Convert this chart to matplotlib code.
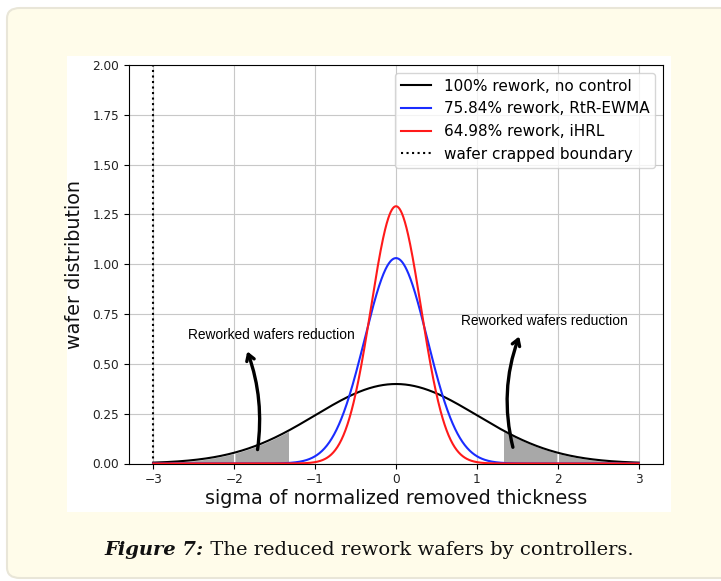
import numpy as np
import matplotlib
matplotlib.use("Agg")
import matplotlib.pyplot as plt
from matplotlib.patches import FancyBboxPatch, Rectangle

labels = ["100% rework, no control", "75.84% rework, RtR-EWMA", "64.98% rework, iHRL"]
sigmas = [1.0, 0.387, 0.309]
colors = ["black", "#1a2cff", "#ff1a1a"]
boundary_x = -3.0
boundary_label = "wafer crapped boundary"
shade_cut = 1.32          # |x| beyond which wafers are reworked
shade_split = 2.0
note = "Reworked wafers reduction"
note_pos = [(-1.54, 0.646), (1.84, 0.714)]
arrow_tail = [(-1.716, 0.056), (1.453, 0.068)]
arrow_head = [(-1.85, 0.576), (1.535, 0.651)]
arrow_rad = [0.13, -0.16]

x = np.linspace(-3, 3, 1201)


def gauss(x, s):
    return np.exp(-x ** 2 / (2 * s ** 2)) / (s * np.sqrt(2 * np.pi))


W, H = 721, 581
fig = plt.figure(figsize=(W / 100, H / 100), dpi=100, facecolor="white")

# page card + white chart area
card = FancyBboxPatch((7 / W, 1 - 578 / H), 780 / W, 570 / H,
                      boxstyle="round,pad=0,rounding_size=0.018",
                      transform=fig.transFigure, facecolor="#fffcea",
                      edgecolor="#e9e6d8", linewidth=1.5, zorder=-3)
fig.patches.append(card)
fig.patches.append(Rectangle((67 / W, 1 - 512 / H), 604 / W, 456 / H,
                             transform=fig.transFigure, facecolor="white",
                             edgecolor="none", zorder=-2))

ax = fig.add_axes([129 / W, 1 - 463.5 / H, 534 / W, 398.5 / H])
ax.patch.set_alpha(0)

ax.axvline(boundary_x, color="black", linestyle=":", linewidth=1.5, label=boundary_label, zorder=2)
for lab, s, c in zip(labels, sigmas, colors):
    ax.plot(x, gauss(x, s), color=c, linewidth=1.5, label=lab, zorder=3)

y0 = gauss(x, sigmas[0])
for lo, hi in [(-3, -shade_split), (-shade_split, -shade_cut),
               (shade_cut, shade_split), (shade_split, 3)]:
    m = (x >= lo) & (x <= hi)
    ax.fill_between(x[m], 0, y0[m], facecolor="#a8a8a8", edgecolor="white",
                    linewidth=1.0, zorder=1.5)

for (tx, ty), tail, head, rad in zip(note_pos, arrow_tail, arrow_head, arrow_rad):
    ax.text(tx, ty, note, ha="center", va="center", fontsize=9.9,
            family="Liberation Sans", zorder=5)
    ax.annotate("", xy=head, xytext=tail,
                arrowprops=dict(arrowstyle="->,head_length=0.45,head_width=0.28",
                                color="black", lw=2.4,
                                connectionstyle=f"arc3,rad={rad}"), zorder=5)

ax.set_xlim(-3.3, 3.3)
ax.set_ylim(0, 2)
ax.set_yticks(np.arange(0, 2.01, 0.25))
ax.tick_params(labelsize=8.7, labelcolor="#222222")
ax.grid(True, color="#c8c8c8", linewidth=0.8)
ax.set_axisbelow(True)
ax.set_xlabel("sigma of normalized removed thickness", fontsize=13.8, labelpad=2,
              color="#111111")
ax.set_ylabel("wafer distribution", fontsize=13.8, labelpad=6, color="#111111")

h, l = ax.get_legend_handles_labels()
order = [1, 2, 3, 0]
ax.legend([h[i] for i in order], [l[i] for i in order], loc="upper right", fontsize=11)

# caption
fig.canvas.draw()
r = fig.canvas.get_renderer()
cap_y = 1 - 555 / H
t1 = fig.text(0, cap_y, "Figure 7:", fontsize=14, family="DejaVu Serif",
              weight="bold", style="italic", va="baseline", color="#111111")
t2 = fig.text(0, cap_y, " The reduced rework wafers by controllers.", fontsize=14,
              family="DejaVu Serif", va="baseline", color="#111111")
w1 = t1.get_window_extent(r).width
w2 = t2.get_window_extent(r).width
start = (369 - (w1 + w2) / 2) / W
t1.set_x(start)
t2.set_x(start + w1 / W)

fig.savefig("out.png", dpi=100, facecolor=fig.get_facecolor())
